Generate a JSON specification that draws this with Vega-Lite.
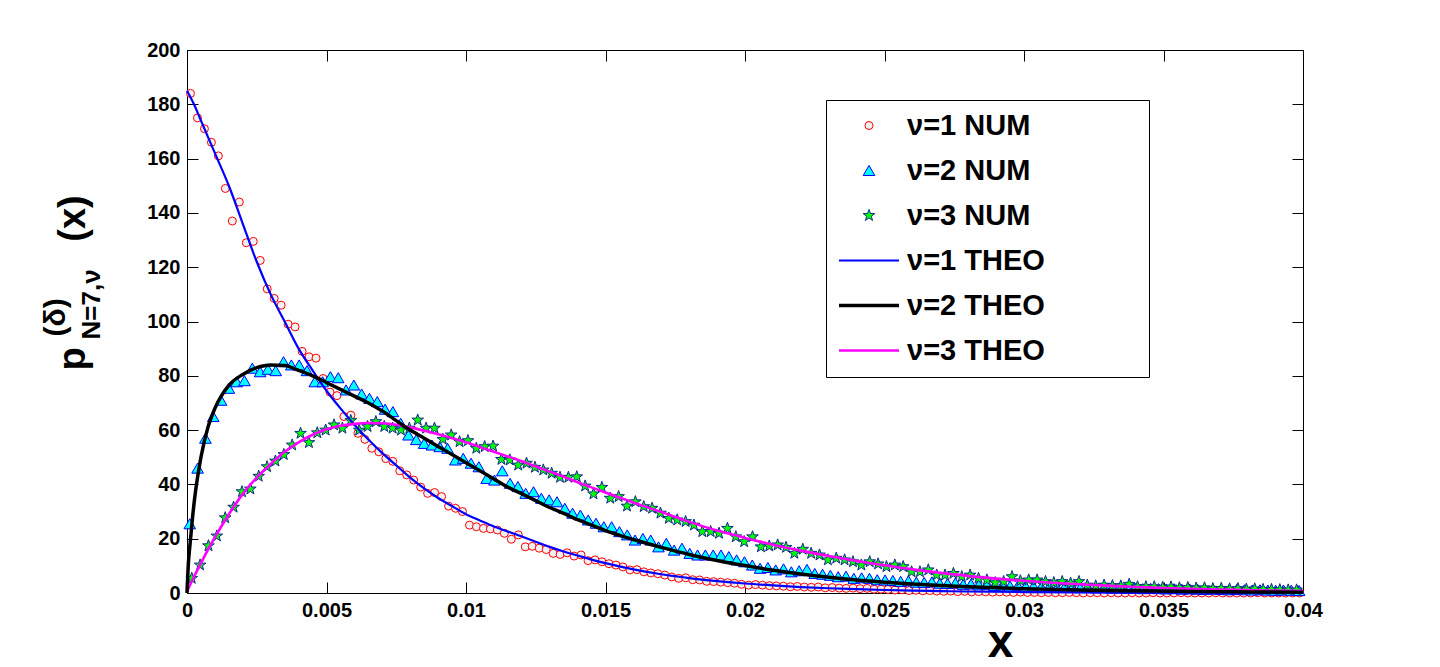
{
"$schema": "https://vega.github.io/schema/vega-lite/v6.json",
"width": 1116, "height": 543,
"autosize": {"type": "none"},
"padding": {"left": 187, "top": 50, "right": 137, "bottom": 74},
"background": "white",
"datasets": {
"num": [
{"s":"ν=1 NUM","x":0.000125,"y":184},{"s":"ν=1 NUM","x":0.000375,"y":175},{"s":"ν=1 NUM","x":0.000625,"y":171},{"s":"ν=1 NUM","x":0.000875,"y":166},{"s":"ν=1 NUM","x":0.001125,"y":161},{"s":"ν=1 NUM","x":0.001375,"y":149},{"s":"ν=1 NUM","x":0.001625,"y":137},{"s":"ν=1 NUM","x":0.001875,"y":144},{"s":"ν=1 NUM","x":0.002125,"y":129},{"s":"ν=1 NUM","x":0.002375,"y":129.5},
{"s":"ν=1 NUM","x":0.002625,"y":122.5},{"s":"ν=1 NUM","x":0.002875,"y":112},{"s":"ν=1 NUM","x":0.003125,"y":108.5},{"s":"ν=1 NUM","x":0.003375,"y":106},{"s":"ν=1 NUM","x":0.003625,"y":99},{"s":"ν=1 NUM","x":0.003875,"y":98},{"s":"ν=1 NUM","x":0.004125,"y":89},{"s":"ν=1 NUM","x":0.004375,"y":87},{"s":"ν=1 NUM","x":0.004625,"y":86.5},{"s":"ν=1 NUM","x":0.004875,"y":79},
{"s":"ν=1 NUM","x":0.005125,"y":74},{"s":"ν=1 NUM","x":0.005375,"y":72.7},{"s":"ν=1 NUM","x":0.005625,"y":65},{"s":"ν=1 NUM","x":0.005875,"y":65.5},{"s":"ν=1 NUM","x":0.006125,"y":58.8},{"s":"ν=1 NUM","x":0.006375,"y":56.6},{"s":"ν=1 NUM","x":0.006625,"y":53.3},{"s":"ν=1 NUM","x":0.006875,"y":52},{"s":"ν=1 NUM","x":0.007125,"y":49.5},{"s":"ν=1 NUM","x":0.007375,"y":48.5},
{"s":"ν=1 NUM","x":0.007625,"y":45},{"s":"ν=1 NUM","x":0.007875,"y":43.5},{"s":"ν=1 NUM","x":0.008125,"y":41.6},{"s":"ν=1 NUM","x":0.008375,"y":39},{"s":"ν=1 NUM","x":0.008625,"y":36.7},{"s":"ν=1 NUM","x":0.008875,"y":37},{"s":"ν=1 NUM","x":0.009125,"y":35.5},{"s":"ν=1 NUM","x":0.009375,"y":32},{"s":"ν=1 NUM","x":0.009625,"y":31.2},{"s":"ν=1 NUM","x":0.009875,"y":30},
{"s":"ν=1 NUM","x":0.010125,"y":25},{"s":"ν=1 NUM","x":0.010375,"y":24.4},{"s":"ν=1 NUM","x":0.010625,"y":23.8},{"s":"ν=1 NUM","x":0.010875,"y":23.6},{"s":"ν=1 NUM","x":0.011125,"y":23.2},{"s":"ν=1 NUM","x":0.011375,"y":22},{"s":"ν=1 NUM","x":0.011625,"y":19.8},{"s":"ν=1 NUM","x":0.011875,"y":21.4},{"s":"ν=1 NUM","x":0.012125,"y":17},{"s":"ν=1 NUM","x":0.012375,"y":17.2},
{"s":"ν=1 NUM","x":0.012625,"y":16.5},{"s":"ν=1 NUM","x":0.012875,"y":16},{"s":"ν=1 NUM","x":0.013125,"y":14.6},{"s":"ν=1 NUM","x":0.013375,"y":14.2},{"s":"ν=1 NUM","x":0.013625,"y":14.8},{"s":"ν=1 NUM","x":0.013875,"y":13.6},{"s":"ν=1 NUM","x":0.014125,"y":14},{"s":"ν=1 NUM","x":0.014375,"y":11.9},{"s":"ν=1 NUM","x":0.014625,"y":12.2},{"s":"ν=1 NUM","x":0.014875,"y":11.5},
{"s":"ν=1 NUM","x":0.015125,"y":10.8},{"s":"ν=1 NUM","x":0.015375,"y":10.3},{"s":"ν=1 NUM","x":0.015625,"y":9.6},{"s":"ν=1 NUM","x":0.015875,"y":8.5},{"s":"ν=1 NUM","x":0.016125,"y":8.6},{"s":"ν=1 NUM","x":0.016375,"y":7.8},{"s":"ν=1 NUM","x":0.016625,"y":7.4},{"s":"ν=1 NUM","x":0.016875,"y":7.1},{"s":"ν=1 NUM","x":0.017125,"y":6.6},{"s":"ν=1 NUM","x":0.017375,"y":5.9},
{"s":"ν=1 NUM","x":0.017625,"y":5.4},{"s":"ν=1 NUM","x":0.017875,"y":5.6},{"s":"ν=1 NUM","x":0.018125,"y":4.9},{"s":"ν=1 NUM","x":0.018375,"y":4.8},{"s":"ν=1 NUM","x":0.018625,"y":4.3},{"s":"ν=1 NUM","x":0.018875,"y":4.2},{"s":"ν=1 NUM","x":0.019125,"y":4},{"s":"ν=1 NUM","x":0.019375,"y":3.8},{"s":"ν=1 NUM","x":0.019625,"y":3.6},{"s":"ν=1 NUM","x":0.019875,"y":3.2},
{"s":"ν=1 NUM","x":0.020125,"y":2.9},{"s":"ν=1 NUM","x":0.020375,"y":3.1},{"s":"ν=1 NUM","x":0.020625,"y":2.9},{"s":"ν=1 NUM","x":0.020875,"y":2.7},{"s":"ν=1 NUM","x":0.021125,"y":2.6},{"s":"ν=1 NUM","x":0.021375,"y":2.5},{"s":"ν=1 NUM","x":0.021625,"y":2.3},{"s":"ν=1 NUM","x":0.021875,"y":2.4},{"s":"ν=1 NUM","x":0.022125,"y":2.2},{"s":"ν=1 NUM","x":0.022375,"y":2.1},
{"s":"ν=1 NUM","x":0.022625,"y":2.2},{"s":"ν=1 NUM","x":0.022875,"y":1.9},{"s":"ν=1 NUM","x":0.023125,"y":2},{"s":"ν=1 NUM","x":0.023375,"y":1.8},{"s":"ν=1 NUM","x":0.023625,"y":1.7},{"s":"ν=1 NUM","x":0.023875,"y":1.8},{"s":"ν=1 NUM","x":0.024125,"y":1.6},{"s":"ν=1 NUM","x":0.024375,"y":1.7},{"s":"ν=1 NUM","x":0.024625,"y":1.4},{"s":"ν=1 NUM","x":0.024875,"y":1.4},
{"s":"ν=1 NUM","x":0.025125,"y":1.3},{"s":"ν=1 NUM","x":0.025375,"y":1.1},{"s":"ν=1 NUM","x":0.025625,"y":1.2},{"s":"ν=1 NUM","x":0.025875,"y":0.9},{"s":"ν=1 NUM","x":0.026125,"y":1},{"s":"ν=1 NUM","x":0.026375,"y":0.8},{"s":"ν=1 NUM","x":0.026625,"y":0.9},{"s":"ν=1 NUM","x":0.026875,"y":0.7},{"s":"ν=1 NUM","x":0.027125,"y":0.6},{"s":"ν=1 NUM","x":0.027375,"y":0.7},
{"s":"ν=1 NUM","x":0.027625,"y":0.5},{"s":"ν=1 NUM","x":0.027875,"y":0.6},{"s":"ν=1 NUM","x":0.028125,"y":0.4},{"s":"ν=1 NUM","x":0.028375,"y":0.5},{"s":"ν=1 NUM","x":0.028625,"y":0.4},{"s":"ν=1 NUM","x":0.028875,"y":0.3},{"s":"ν=1 NUM","x":0.029125,"y":0.4},{"s":"ν=1 NUM","x":0.029375,"y":0.3},{"s":"ν=1 NUM","x":0.029625,"y":0.2},{"s":"ν=1 NUM","x":0.029875,"y":0.3},
{"s":"ν=1 NUM","x":0.030125,"y":0.2},{"s":"ν=1 NUM","x":0.030375,"y":0.2},{"s":"ν=1 NUM","x":0.030625,"y":0.1},{"s":"ν=1 NUM","x":0.030875,"y":0.2},{"s":"ν=1 NUM","x":0.031125,"y":0.1},{"s":"ν=1 NUM","x":0.031375,"y":0.1},{"s":"ν=1 NUM","x":0.031625,"y":0.2},{"s":"ν=1 NUM","x":0.031875,"y":0.1},{"s":"ν=1 NUM","x":0.032125,"y":0},{"s":"ν=1 NUM","x":0.032375,"y":0.1},
{"s":"ν=1 NUM","x":0.032625,"y":0.1},{"s":"ν=1 NUM","x":0.032875,"y":0},{"s":"ν=1 NUM","x":0.033125,"y":0.1},{"s":"ν=1 NUM","x":0.033375,"y":0},{"s":"ν=1 NUM","x":0.033625,"y":0},{"s":"ν=1 NUM","x":0.033875,"y":0.1},{"s":"ν=1 NUM","x":0.034125,"y":0},{"s":"ν=1 NUM","x":0.034375,"y":0},{"s":"ν=1 NUM","x":0.034625,"y":0.1},{"s":"ν=1 NUM","x":0.034875,"y":0},
{"s":"ν=1 NUM","x":0.035125,"y":0},{"s":"ν=1 NUM","x":0.035375,"y":0},{"s":"ν=1 NUM","x":0.035625,"y":0.1},{"s":"ν=1 NUM","x":0.035875,"y":0},{"s":"ν=1 NUM","x":0.036125,"y":0},{"s":"ν=1 NUM","x":0.036375,"y":0},{"s":"ν=1 NUM","x":0.036625,"y":0},{"s":"ν=1 NUM","x":0.036875,"y":0.1},{"s":"ν=1 NUM","x":0.037125,"y":0},{"s":"ν=1 NUM","x":0.037375,"y":0},
{"s":"ν=1 NUM","x":0.037625,"y":0},{"s":"ν=1 NUM","x":0.037875,"y":0},{"s":"ν=1 NUM","x":0.038125,"y":0},{"s":"ν=1 NUM","x":0.038375,"y":0.1},{"s":"ν=1 NUM","x":0.038625,"y":0},{"s":"ν=1 NUM","x":0.038875,"y":0},{"s":"ν=1 NUM","x":0.039125,"y":0},{"s":"ν=1 NUM","x":0.039375,"y":0},{"s":"ν=1 NUM","x":0.039625,"y":0},{"s":"ν=1 NUM","x":0.039875,"y":0},
{"s":"ν=2 NUM","x":0.0001,"y":25.5},{"s":"ν=2 NUM","x":0.00038,"y":46},{"s":"ν=2 NUM","x":0.00066,"y":57},{"s":"ν=2 NUM","x":0.00094,"y":65},{"s":"ν=2 NUM","x":0.00122,"y":71},{"s":"ν=2 NUM","x":0.0015,"y":75.4},{"s":"ν=2 NUM","x":0.00178,"y":77.8},{"s":"ν=2 NUM","x":0.00206,"y":78.2},{"s":"ν=2 NUM","x":0.00234,"y":82.8},{"s":"ν=2 NUM","x":0.00262,"y":81.5},
{"s":"ν=2 NUM","x":0.0029,"y":82.4},{"s":"ν=2 NUM","x":0.00318,"y":81.9},{"s":"ν=2 NUM","x":0.00346,"y":85.2},{"s":"ν=2 NUM","x":0.00374,"y":84},{"s":"ν=2 NUM","x":0.00402,"y":84},{"s":"ν=2 NUM","x":0.0043,"y":81.9},{"s":"ν=2 NUM","x":0.00458,"y":77.8},{"s":"ν=2 NUM","x":0.00486,"y":77.8},{"s":"ν=2 NUM","x":0.00514,"y":79.7},{"s":"ν=2 NUM","x":0.00542,"y":79.3},
{"s":"ν=2 NUM","x":0.0057,"y":74.8},{"s":"ν=2 NUM","x":0.00598,"y":76.6},{"s":"ν=2 NUM","x":0.00626,"y":73.3},{"s":"ν=2 NUM","x":0.00654,"y":71.7},{"s":"ν=2 NUM","x":0.00682,"y":70.5},{"s":"ν=2 NUM","x":0.0071,"y":67.7},{"s":"ν=2 NUM","x":0.00738,"y":66.8},{"s":"ν=2 NUM","x":0.00766,"y":62.5},{"s":"ν=2 NUM","x":0.00794,"y":58.2},{"s":"ν=2 NUM","x":0.00822,"y":56.5},
{"s":"ν=2 NUM","x":0.0085,"y":55.1},{"s":"ν=2 NUM","x":0.00878,"y":54.5},{"s":"ν=2 NUM","x":0.00906,"y":53.9},{"s":"ν=2 NUM","x":0.00934,"y":53.3},{"s":"ν=2 NUM","x":0.00962,"y":49},{"s":"ν=2 NUM","x":0.0099,"y":49.6},{"s":"ν=2 NUM","x":0.01018,"y":47.8},{"s":"ν=2 NUM","x":0.01046,"y":46.5},{"s":"ν=2 NUM","x":0.01074,"y":42.2},{"s":"ν=2 NUM","x":0.01102,"y":41.6},
{"s":"ν=2 NUM","x":0.0113,"y":45},{"s":"ν=2 NUM","x":0.01158,"y":40.4},{"s":"ν=2 NUM","x":0.01186,"y":39.2},{"s":"ν=2 NUM","x":0.01214,"y":36.7},{"s":"ν=2 NUM","x":0.01242,"y":37.3},{"s":"ν=2 NUM","x":0.0127,"y":34.9},{"s":"ν=2 NUM","x":0.01298,"y":34.3},{"s":"ν=2 NUM","x":0.01326,"y":33.6},{"s":"ν=2 NUM","x":0.01354,"y":31.2},{"s":"ν=2 NUM","x":0.01382,"y":29.4},
{"s":"ν=2 NUM","x":0.0141,"y":28.7},{"s":"ν=2 NUM","x":0.01438,"y":26.9},{"s":"ν=2 NUM","x":0.01466,"y":25.7},{"s":"ν=2 NUM","x":0.01494,"y":24.4},{"s":"ν=2 NUM","x":0.01522,"y":24.4},{"s":"ν=2 NUM","x":0.0155,"y":22.6},{"s":"ν=2 NUM","x":0.01578,"y":21.4},{"s":"ν=2 NUM","x":0.01606,"y":19.5},{"s":"ν=2 NUM","x":0.01634,"y":20.1},{"s":"ν=2 NUM","x":0.01662,"y":19.5},
{"s":"ν=2 NUM","x":0.0169,"y":17},{"s":"ν=2 NUM","x":0.01718,"y":18.3},{"s":"ν=2 NUM","x":0.01746,"y":15.8},{"s":"ν=2 NUM","x":0.01774,"y":16.5},{"s":"ν=2 NUM","x":0.01802,"y":14.6},{"s":"ν=2 NUM","x":0.0183,"y":14},{"s":"ν=2 NUM","x":0.01858,"y":14},{"s":"ν=2 NUM","x":0.01886,"y":14},{"s":"ν=2 NUM","x":0.01914,"y":14},{"s":"ν=2 NUM","x":0.01942,"y":13.4},
{"s":"ν=2 NUM","x":0.0197,"y":12.2},{"s":"ν=2 NUM","x":0.01998,"y":11.5},{"s":"ν=2 NUM","x":0.02026,"y":10.3},{"s":"ν=2 NUM","x":0.02054,"y":9.1},{"s":"ν=2 NUM","x":0.02082,"y":9.4},{"s":"ν=2 NUM","x":0.0211,"y":8.5},{"s":"ν=2 NUM","x":0.02138,"y":8.9},{"s":"ν=2 NUM","x":0.02166,"y":7.8},{"s":"ν=2 NUM","x":0.02194,"y":8.2},{"s":"ν=2 NUM","x":0.02222,"y":8.7},
{"s":"ν=2 NUM","x":0.0225,"y":7.2},{"s":"ν=2 NUM","x":0.02278,"y":6.9},{"s":"ν=2 NUM","x":0.02306,"y":6.5},{"s":"ν=2 NUM","x":0.02334,"y":6},{"s":"ν=2 NUM","x":0.02362,"y":6.2},{"s":"ν=2 NUM","x":0.0239,"y":5.4},{"s":"ν=2 NUM","x":0.02418,"y":5.6},{"s":"ν=2 NUM","x":0.02446,"y":5.4},{"s":"ν=2 NUM","x":0.02474,"y":4.9},{"s":"ν=2 NUM","x":0.02502,"y":4.8},
{"s":"ν=2 NUM","x":0.0253,"y":4.6},{"s":"ν=2 NUM","x":0.02558,"y":4.3},{"s":"ν=2 NUM","x":0.02586,"y":4.5},{"s":"ν=2 NUM","x":0.02614,"y":4},{"s":"ν=2 NUM","x":0.02642,"y":3.9},{"s":"ν=2 NUM","x":0.0267,"y":4.1},{"s":"ν=2 NUM","x":0.02698,"y":3.6},{"s":"ν=2 NUM","x":0.02726,"y":3.5},{"s":"ν=2 NUM","x":0.02754,"y":3.7},{"s":"ν=2 NUM","x":0.02782,"y":3.2},
{"s":"ν=2 NUM","x":0.0281,"y":3.3},{"s":"ν=2 NUM","x":0.02838,"y":3},{"s":"ν=2 NUM","x":0.02866,"y":3.1},{"s":"ν=2 NUM","x":0.02894,"y":2.8},{"s":"ν=2 NUM","x":0.02922,"y":2.9},{"s":"ν=2 NUM","x":0.0295,"y":2.6},{"s":"ν=2 NUM","x":0.02978,"y":2.7},{"s":"ν=2 NUM","x":0.03006,"y":2.5},{"s":"ν=2 NUM","x":0.03034,"y":2.6},{"s":"ν=2 NUM","x":0.03062,"y":2.3},
{"s":"ν=2 NUM","x":0.0309,"y":2.4},{"s":"ν=2 NUM","x":0.03118,"y":2.2},{"s":"ν=2 NUM","x":0.03146,"y":2.3},{"s":"ν=2 NUM","x":0.03174,"y":2.1},{"s":"ν=2 NUM","x":0.03202,"y":2},{"s":"ν=2 NUM","x":0.0323,"y":2.1},{"s":"ν=2 NUM","x":0.03258,"y":1.9},{"s":"ν=2 NUM","x":0.03286,"y":2},{"s":"ν=2 NUM","x":0.03314,"y":1.8},{"s":"ν=2 NUM","x":0.03342,"y":1.9},
{"s":"ν=2 NUM","x":0.0337,"y":1.7},{"s":"ν=2 NUM","x":0.03398,"y":1.8},{"s":"ν=2 NUM","x":0.03426,"y":1.6},{"s":"ν=2 NUM","x":0.03454,"y":1.7},{"s":"ν=2 NUM","x":0.03482,"y":1.6},{"s":"ν=2 NUM","x":0.0351,"y":1.5},{"s":"ν=2 NUM","x":0.03538,"y":1.6},{"s":"ν=2 NUM","x":0.03566,"y":1.4},{"s":"ν=2 NUM","x":0.03594,"y":1.5},{"s":"ν=2 NUM","x":0.03622,"y":1.4},
{"s":"ν=2 NUM","x":0.0365,"y":1.3},{"s":"ν=2 NUM","x":0.03678,"y":1.4},{"s":"ν=2 NUM","x":0.03706,"y":1.3},{"s":"ν=2 NUM","x":0.03734,"y":1.2},{"s":"ν=2 NUM","x":0.03762,"y":1.3},{"s":"ν=2 NUM","x":0.0379,"y":1.2},{"s":"ν=2 NUM","x":0.03818,"y":1.1},{"s":"ν=2 NUM","x":0.03846,"y":1.2},{"s":"ν=2 NUM","x":0.03874,"y":1.1},{"s":"ν=2 NUM","x":0.03902,"y":1},
{"s":"ν=2 NUM","x":0.0393,"y":1.1},{"s":"ν=2 NUM","x":0.03958,"y":1},{"s":"ν=2 NUM","x":0.03986,"y":0.9},
{"s":"ν=3 NUM","x":0.00017,"y":5.4},{"s":"ν=3 NUM","x":0.00047,"y":10.3},{"s":"ν=3 NUM","x":0.00077,"y":17.4},{"s":"ν=3 NUM","x":0.00107,"y":21},{"s":"ν=3 NUM","x":0.00137,"y":27.7},{"s":"ν=3 NUM","x":0.00167,"y":31.6},{"s":"ν=3 NUM","x":0.00197,"y":37.3},{"s":"ν=3 NUM","x":0.00227,"y":38.3},{"s":"ν=3 NUM","x":0.00257,"y":43},{"s":"ν=3 NUM","x":0.00287,"y":46.5},
{"s":"ν=3 NUM","x":0.00317,"y":48.6},{"s":"ν=3 NUM","x":0.00347,"y":51},{"s":"ν=3 NUM","x":0.00377,"y":54.5},{"s":"ν=3 NUM","x":0.00407,"y":58.8},{"s":"ν=3 NUM","x":0.00437,"y":55.4},{"s":"ν=3 NUM","x":0.00467,"y":59},{"s":"ν=3 NUM","x":0.00497,"y":60},{"s":"ν=3 NUM","x":0.00527,"y":61.9},{"s":"ν=3 NUM","x":0.00557,"y":60.7},{"s":"ν=3 NUM","x":0.00587,"y":63.5},
{"s":"ν=3 NUM","x":0.00617,"y":60},{"s":"ν=3 NUM","x":0.00647,"y":61.3},{"s":"ν=3 NUM","x":0.00677,"y":63.1},{"s":"ν=3 NUM","x":0.00707,"y":61.3},{"s":"ν=3 NUM","x":0.00737,"y":60.7},{"s":"ν=3 NUM","x":0.00767,"y":60},{"s":"ν=3 NUM","x":0.00797,"y":60.7},{"s":"ν=3 NUM","x":0.00827,"y":63.7},{"s":"ν=3 NUM","x":0.00857,"y":60.7},{"s":"ν=3 NUM","x":0.00887,"y":60.7},
{"s":"ν=3 NUM","x":0.00917,"y":56.6},{"s":"ν=3 NUM","x":0.00947,"y":58.2},{"s":"ν=3 NUM","x":0.00977,"y":55.7},{"s":"ν=3 NUM","x":0.01007,"y":56.1},{"s":"ν=3 NUM","x":0.01037,"y":53.3},{"s":"ν=3 NUM","x":0.01067,"y":53.9},{"s":"ν=3 NUM","x":0.01097,"y":54.1},{"s":"ν=3 NUM","x":0.01127,"y":49.2},{"s":"ν=3 NUM","x":0.01157,"y":49},{"s":"ν=3 NUM","x":0.01187,"y":47.1},
{"s":"ν=3 NUM","x":0.01217,"y":47.8},{"s":"ν=3 NUM","x":0.01247,"y":46.3},{"s":"ν=3 NUM","x":0.01277,"y":45.3},{"s":"ν=3 NUM","x":0.01307,"y":44.1},{"s":"ν=3 NUM","x":0.01337,"y":42.6},{"s":"ν=3 NUM","x":0.01367,"y":42.6},{"s":"ν=3 NUM","x":0.01397,"y":42.8},{"s":"ν=3 NUM","x":0.01427,"y":39.4},{"s":"ν=3 NUM","x":0.01457,"y":36.5},{"s":"ν=3 NUM","x":0.01487,"y":38.9},
{"s":"ν=3 NUM","x":0.01517,"y":34.9},{"s":"ν=3 NUM","x":0.01547,"y":35.5},{"s":"ν=3 NUM","x":0.01577,"y":32},{"s":"ν=3 NUM","x":0.01607,"y":33.6},{"s":"ν=3 NUM","x":0.01637,"y":31.8},{"s":"ν=3 NUM","x":0.01667,"y":31.2},{"s":"ν=3 NUM","x":0.01697,"y":29.4},{"s":"ν=3 NUM","x":0.01727,"y":27.5},{"s":"ν=3 NUM","x":0.01757,"y":26.9},{"s":"ν=3 NUM","x":0.01787,"y":26.3},
{"s":"ν=3 NUM","x":0.01817,"y":25},{"s":"ν=3 NUM","x":0.01847,"y":22.6},{"s":"ν=3 NUM","x":0.01877,"y":22.6},{"s":"ν=3 NUM","x":0.01907,"y":22},{"s":"ν=3 NUM","x":0.01937,"y":23.8},{"s":"ν=3 NUM","x":0.01967,"y":20.7},{"s":"ν=3 NUM","x":0.01997,"y":18.9},{"s":"ν=3 NUM","x":0.02027,"y":20.7},{"s":"ν=3 NUM","x":0.02057,"y":17},{"s":"ν=3 NUM","x":0.02087,"y":17.3},
{"s":"ν=3 NUM","x":0.02117,"y":17.7},{"s":"ν=3 NUM","x":0.02147,"y":16.8},{"s":"ν=3 NUM","x":0.02177,"y":14.6},{"s":"ν=3 NUM","x":0.02207,"y":16.1},{"s":"ν=3 NUM","x":0.02237,"y":14.6},{"s":"ν=3 NUM","x":0.02267,"y":14},{"s":"ν=3 NUM","x":0.02297,"y":12.2},{"s":"ν=3 NUM","x":0.02327,"y":12.8},{"s":"ν=3 NUM","x":0.02357,"y":12.2},{"s":"ν=3 NUM","x":0.02387,"y":11.5},
{"s":"ν=3 NUM","x":0.02417,"y":10.3},{"s":"ν=3 NUM","x":0.02447,"y":11.5},{"s":"ν=3 NUM","x":0.02477,"y":10.7},{"s":"ν=3 NUM","x":0.02507,"y":9.7},{"s":"ν=3 NUM","x":0.02537,"y":10.3},{"s":"ν=3 NUM","x":0.02567,"y":9.7},{"s":"ν=3 NUM","x":0.02597,"y":7.8},{"s":"ν=3 NUM","x":0.02627,"y":7.8},{"s":"ν=3 NUM","x":0.02657,"y":8.5},{"s":"ν=3 NUM","x":0.02687,"y":6.6},
{"s":"ν=3 NUM","x":0.02717,"y":6.6},{"s":"ν=3 NUM","x":0.02747,"y":7.2},{"s":"ν=3 NUM","x":0.02777,"y":6},{"s":"ν=3 NUM","x":0.02807,"y":6.6},{"s":"ν=3 NUM","x":0.02837,"y":5.4},{"s":"ν=3 NUM","x":0.02867,"y":4.8},{"s":"ν=3 NUM","x":0.02897,"y":3.8},{"s":"ν=3 NUM","x":0.02927,"y":4.2},{"s":"ν=3 NUM","x":0.02957,"y":6},{"s":"ν=3 NUM","x":0.02987,"y":4.5},
{"s":"ν=3 NUM","x":0.03017,"y":4.8},{"s":"ν=3 NUM","x":0.03047,"y":4.8},{"s":"ν=3 NUM","x":0.03077,"y":4.2},{"s":"ν=3 NUM","x":0.03107,"y":3.8},{"s":"ν=3 NUM","x":0.03137,"y":4.2},{"s":"ν=3 NUM","x":0.03167,"y":3.6},{"s":"ν=3 NUM","x":0.03197,"y":4.2},{"s":"ν=3 NUM","x":0.03227,"y":2.9},{"s":"ν=3 NUM","x":0.03257,"y":2.6},{"s":"ν=3 NUM","x":0.03287,"y":2.9},
{"s":"ν=3 NUM","x":0.03317,"y":2.7},{"s":"ν=3 NUM","x":0.03347,"y":2.6},{"s":"ν=3 NUM","x":0.03377,"y":3.2},{"s":"ν=3 NUM","x":0.03407,"y":2.3},{"s":"ν=3 NUM","x":0.03437,"y":2.3},{"s":"ν=3 NUM","x":0.03467,"y":2.3},{"s":"ν=3 NUM","x":0.03497,"y":2.1},{"s":"ν=3 NUM","x":0.03527,"y":2.2},{"s":"ν=3 NUM","x":0.03557,"y":1.9},{"s":"ν=3 NUM","x":0.03587,"y":2},
{"s":"ν=3 NUM","x":0.03617,"y":1.8},{"s":"ν=3 NUM","x":0.03647,"y":1.9},{"s":"ν=3 NUM","x":0.03677,"y":1.6},{"s":"ν=3 NUM","x":0.03707,"y":1.7},{"s":"ν=3 NUM","x":0.03737,"y":1.5},{"s":"ν=3 NUM","x":0.03767,"y":1.6},{"s":"ν=3 NUM","x":0.03797,"y":1.4},{"s":"ν=3 NUM","x":0.03827,"y":1.5},{"s":"ν=3 NUM","x":0.03857,"y":1.3},{"s":"ν=3 NUM","x":0.03887,"y":1.3},
{"s":"ν=3 NUM","x":0.03917,"y":1.2},{"s":"ν=3 NUM","x":0.03947,"y":1.1},{"s":"ν=3 NUM","x":0.03977,"y":1.1}
],
"theo": [
{"s":"ν=1 THEO","x":0,"y":185},{"s":"ν=1 THEO","x":0.00025,"y":180},{"s":"ν=1 THEO","x":0.0005,"y":174},{"s":"ν=1 THEO","x":0.00075,"y":168},{"s":"ν=1 THEO","x":0.001,"y":162},{"s":"ν=1 THEO","x":0.0015,"y":150},{"s":"ν=1 THEO","x":0.002,"y":136},{"s":"ν=1 THEO","x":0.0025,"y":122},{"s":"ν=1 THEO","x":0.003,"y":110},{"s":"ν=1 THEO","x":0.0035,"y":100},
{"s":"ν=1 THEO","x":0.004,"y":90},{"s":"ν=1 THEO","x":0.0045,"y":82},{"s":"ν=1 THEO","x":0.005,"y":74.5},{"s":"ν=1 THEO","x":0.0055,"y":68},{"s":"ν=1 THEO","x":0.006,"y":62},{"s":"ν=1 THEO","x":0.0065,"y":56.5},{"s":"ν=1 THEO","x":0.007,"y":51.5},{"s":"ν=1 THEO","x":0.0075,"y":47},{"s":"ν=1 THEO","x":0.008,"y":42.5},{"s":"ν=1 THEO","x":0.0085,"y":38.5},
{"s":"ν=1 THEO","x":0.009,"y":35},{"s":"ν=1 THEO","x":0.0095,"y":32},{"s":"ν=1 THEO","x":0.01,"y":29},{"s":"ν=1 THEO","x":0.0105,"y":26.7},{"s":"ν=1 THEO","x":0.011,"y":24.5},{"s":"ν=1 THEO","x":0.0115,"y":22.6},{"s":"ν=1 THEO","x":0.012,"y":20.8},{"s":"ν=1 THEO","x":0.0125,"y":18.9},{"s":"ν=1 THEO","x":0.013,"y":17},{"s":"ν=1 THEO","x":0.0135,"y":15.3},
{"s":"ν=1 THEO","x":0.014,"y":13.8},{"s":"ν=1 THEO","x":0.0145,"y":12.3},{"s":"ν=1 THEO","x":0.015,"y":11},{"s":"ν=1 THEO","x":0.016,"y":8.7},{"s":"ν=1 THEO","x":0.017,"y":6.9},{"s":"ν=1 THEO","x":0.018,"y":5.5},{"s":"ν=1 THEO","x":0.019,"y":4.4},{"s":"ν=1 THEO","x":0.02,"y":3.5},{"s":"ν=1 THEO","x":0.021,"y":2.8},{"s":"ν=1 THEO","x":0.022,"y":2.2},
{"s":"ν=1 THEO","x":0.023,"y":1.75},{"s":"ν=1 THEO","x":0.024,"y":1.4},{"s":"ν=1 THEO","x":0.025,"y":1.1},{"s":"ν=1 THEO","x":0.026,"y":0.85},{"s":"ν=1 THEO","x":0.027,"y":0.7},{"s":"ν=1 THEO","x":0.028,"y":0.55},{"s":"ν=1 THEO","x":0.03,"y":0.35},{"s":"ν=1 THEO","x":0.032,"y":0.22},{"s":"ν=1 THEO","x":0.034,"y":0.15},{"s":"ν=1 THEO","x":0.036,"y":0.1},
{"s":"ν=1 THEO","x":0.038,"y":0.07},{"s":"ν=1 THEO","x":0.04,"y":0.05},
{"s":"ν=3 THEO","x":0,"y":0.5},{"s":"ν=3 THEO","x":0.00025,"y":6},{"s":"ν=3 THEO","x":0.0005,"y":11},{"s":"ν=3 THEO","x":0.00075,"y":16},{"s":"ν=3 THEO","x":0.001,"y":20.5},{"s":"ν=3 THEO","x":0.0015,"y":29},{"s":"ν=3 THEO","x":0.002,"y":36.5},{"s":"ν=3 THEO","x":0.0025,"y":42.5},{"s":"ν=3 THEO","x":0.003,"y":47.5},{"s":"ν=3 THEO","x":0.0035,"y":52},
{"s":"ν=3 THEO","x":0.004,"y":55.5},{"s":"ν=3 THEO","x":0.0045,"y":58.3},{"s":"ν=3 THEO","x":0.005,"y":60.3},{"s":"ν=3 THEO","x":0.0055,"y":61.6},{"s":"ν=3 THEO","x":0.006,"y":62.3},{"s":"ν=3 THEO","x":0.0065,"y":62.6},{"s":"ν=3 THEO","x":0.007,"y":62.5},{"s":"ν=3 THEO","x":0.0075,"y":62},{"s":"ν=3 THEO","x":0.008,"y":61},{"s":"ν=3 THEO","x":0.0085,"y":59.8},
{"s":"ν=3 THEO","x":0.009,"y":58.5},{"s":"ν=3 THEO","x":0.0095,"y":57},{"s":"ν=3 THEO","x":0.01,"y":55.5},{"s":"ν=3 THEO","x":0.0105,"y":53.8},{"s":"ν=3 THEO","x":0.011,"y":52},{"s":"ν=3 THEO","x":0.0115,"y":50.3},{"s":"ν=3 THEO","x":0.012,"y":48.5},{"s":"ν=3 THEO","x":0.0125,"y":46.6},{"s":"ν=3 THEO","x":0.013,"y":44.7},{"s":"ν=3 THEO","x":0.0135,"y":42.8},
{"s":"ν=3 THEO","x":0.014,"y":40.8},{"s":"ν=3 THEO","x":0.0145,"y":38.9},{"s":"ν=3 THEO","x":0.015,"y":37},{"s":"ν=3 THEO","x":0.016,"y":33.3},{"s":"ν=3 THEO","x":0.017,"y":29.8},{"s":"ν=3 THEO","x":0.018,"y":26.2},{"s":"ν=3 THEO","x":0.019,"y":23},{"s":"ν=3 THEO","x":0.02,"y":20.3},{"s":"ν=3 THEO","x":0.021,"y":17.8},{"s":"ν=3 THEO","x":0.022,"y":15.6},
{"s":"ν=3 THEO","x":0.023,"y":13.6},{"s":"ν=3 THEO","x":0.024,"y":11.8},{"s":"ν=3 THEO","x":0.025,"y":10.2},{"s":"ν=3 THEO","x":0.026,"y":8.7},{"s":"ν=3 THEO","x":0.027,"y":7.4},{"s":"ν=3 THEO","x":0.028,"y":6.3},{"s":"ν=3 THEO","x":0.029,"y":5.3},{"s":"ν=3 THEO","x":0.03,"y":4.5},{"s":"ν=3 THEO","x":0.031,"y":3.8},{"s":"ν=3 THEO","x":0.032,"y":3.2},
{"s":"ν=3 THEO","x":0.033,"y":2.7},{"s":"ν=3 THEO","x":0.034,"y":2.2},{"s":"ν=3 THEO","x":0.035,"y":1.85},{"s":"ν=3 THEO","x":0.036,"y":1.55},{"s":"ν=3 THEO","x":0.037,"y":1.3},{"s":"ν=3 THEO","x":0.038,"y":1.1},{"s":"ν=3 THEO","x":0.039,"y":0.9},{"s":"ν=3 THEO","x":0.04,"y":0.75},
{"s":"ν=2 THEO","x":0,"y":0},{"s":"ν=2 THEO","x":0.00005,"y":11},{"s":"ν=2 THEO","x":0.0001,"y":17},{"s":"ν=2 THEO","x":0.0002,"y":28},{"s":"ν=2 THEO","x":0.0003,"y":37},{"s":"ν=2 THEO","x":0.0004,"y":44},{"s":"ν=2 THEO","x":0.0005,"y":50},{"s":"ν=2 THEO","x":0.00075,"y":61},{"s":"ν=2 THEO","x":0.001,"y":68},{"s":"ν=2 THEO","x":0.0015,"y":76.5},
{"s":"ν=2 THEO","x":0.002,"y":80.5},{"s":"ν=2 THEO","x":0.0025,"y":83},{"s":"ν=2 THEO","x":0.003,"y":84},{"s":"ν=2 THEO","x":0.0035,"y":83.8},{"s":"ν=2 THEO","x":0.004,"y":82},{"s":"ν=2 THEO","x":0.0045,"y":80},{"s":"ν=2 THEO","x":0.005,"y":77.5},{"s":"ν=2 THEO","x":0.0055,"y":75},{"s":"ν=2 THEO","x":0.006,"y":72.5},{"s":"ν=2 THEO","x":0.0065,"y":70},
{"s":"ν=2 THEO","x":0.007,"y":67},{"s":"ν=2 THEO","x":0.0075,"y":63.5},{"s":"ν=2 THEO","x":0.008,"y":60},{"s":"ν=2 THEO","x":0.0085,"y":57},{"s":"ν=2 THEO","x":0.009,"y":54},{"s":"ν=2 THEO","x":0.0095,"y":51},{"s":"ν=2 THEO","x":0.01,"y":48},{"s":"ν=2 THEO","x":0.0105,"y":45},{"s":"ν=2 THEO","x":0.011,"y":42},{"s":"ν=2 THEO","x":0.0115,"y":39},
{"s":"ν=2 THEO","x":0.012,"y":36.5},{"s":"ν=2 THEO","x":0.0125,"y":34},{"s":"ν=2 THEO","x":0.013,"y":31.5},{"s":"ν=2 THEO","x":0.0135,"y":29.3},{"s":"ν=2 THEO","x":0.014,"y":27},{"s":"ν=2 THEO","x":0.0145,"y":25},{"s":"ν=2 THEO","x":0.015,"y":23},{"s":"ν=2 THEO","x":0.016,"y":19.7},{"s":"ν=2 THEO","x":0.017,"y":16.8},{"s":"ν=2 THEO","x":0.018,"y":14.2},
{"s":"ν=2 THEO","x":0.019,"y":12},{"s":"ν=2 THEO","x":0.02,"y":10.1},{"s":"ν=2 THEO","x":0.021,"y":8.4},{"s":"ν=2 THEO","x":0.022,"y":7},{"s":"ν=2 THEO","x":0.023,"y":5.8},{"s":"ν=2 THEO","x":0.024,"y":4.8},{"s":"ν=2 THEO","x":0.025,"y":4},{"s":"ν=2 THEO","x":0.026,"y":3.3},{"s":"ν=2 THEO","x":0.027,"y":2.75},{"s":"ν=2 THEO","x":0.028,"y":2.3},
{"s":"ν=2 THEO","x":0.03,"y":1.6},{"s":"ν=2 THEO","x":0.032,"y":1.1},{"s":"ν=2 THEO","x":0.034,"y":0.8},{"s":"ν=2 THEO","x":0.036,"y":0.55},{"s":"ν=2 THEO","x":0.038,"y":0.4},{"s":"ν=2 THEO","x":0.04,"y":0.28}
]
},
"resolve": {"axis": {"x": "independent", "y": "independent"}},
"layer": [
{
"data": {"name": "num"},
"mark": {"type": "point", "filled": true, "opacity": 1},
"encoding": {
"x": {"field": "x", "type": "quantitative", "scale": {"domain": [0, 0.04], "nice": false, "zero": false},
 "axis": {"orient": "top", "labels": false, "values": [0,0.005,0.01,0.015,0.02,0.025,0.03,0.035,0.04], "title": "(δ)", "titleFontSize": 30, "titleAngle": -90, "titleAlign": "left", "titleBaseline": "alphabetic", "titleX": -123, "titleY": 286}},
"y": {"field": "y", "type": "quantitative", "scale": {"domain": [0, 200], "nice": false},
 "axis": {"orient": "right", "labels": false, "values": [0,20,40,60,80,100,120,140,160,180,200], "title": "N=7,ν", "titleFontSize": 26, "titleAngle": -90, "titleAlign": "left", "titleBaseline": "alphabetic", "titleX": -1204, "titleY": 289}},
"shape": {"field": "s", "type": "nominal",
 "scale": {"domain": ["ν=1 NUM","ν=2 NUM","ν=3 NUM","ν=1 THEO","ν=2 THEO","ν=3 THEO"], "range": ["circle","triangle-up","M0,-1L0.235,-0.324L0.951,-0.309L0.38,0.124L0.588,0.809L0,0.4L-0.588,0.809L-0.38,0.124L-0.951,-0.309L-0.235,-0.324Z","stroke","stroke","stroke"]},
 "legend": {"orient": "none", "legendX": 639, "legendY": 50, "title": "ν", "titleOrient": "right", "titlePadding": 76, "titleFontSize": 29, "titleColor": "white", "titleOpacity": 0, "padding": 11, "rowPadding": 15, "clipHeight": 29, "labelFont": "Liberation Sans", "labelFontSize": 29, "labelFontWeight": "bold", "labelColor": "black", "labelOffset": 6, "labelLimit": 600, "strokeColor": "black", "fillColor": "white",
  "encode": {"symbols": {"update": {"strokeWidth": {"signal": "datum.value == 'ν=2 THEO' ? 3.5 : (indexof(datum.value, 'THEO') >= 0 ? 2.5 : 1)"}}}}}},
"fill": {"field": "s", "type": "nominal",
 "scale": {"domain": ["ν=1 NUM","ν=2 NUM","ν=3 NUM","ν=1 THEO","ν=2 THEO","ν=3 THEO"], "range": ["#f2f0f0","#00ffff","#00ff00","#ffffff","#ffffff","#ffffff"]}},
"stroke": {"field": "s", "type": "nominal",
 "scale": {"domain": ["ν=1 NUM","ν=2 NUM","ν=3 NUM","ν=1 THEO","ν=2 THEO","ν=3 THEO"], "range": ["#ff0000","#0000ff","#14288c","#0000ff","#000000","#ff00ff"]}},
"size": {"field": "s", "type": "nominal",
 "scale": {"type": "ordinal", "domain": ["ν=1 NUM","ν=2 NUM","ν=3 NUM","ν=1 THEO","ν=2 THEO","ν=3 THEO"], "range": [64,135,150,3600,3600,3600]}},
"strokeWidth": {"field": "s", "type": "nominal", "legend": null,
 "scale": {"type": "ordinal", "domain": ["ν=1 NUM","ν=2 NUM","ν=3 NUM","ν=1 THEO","ν=2 THEO","ν=3 THEO"], "range": [1,1,1,2.2,3.5,2.6]}}
}
},
{
"data": {"name": "theo"},
"mark": {"type": "line", "interpolate": "monotone"},
"encoding": {
"x": {"field": "x", "type": "quantitative",
 "axis": {"orient": "bottom", "offset": -11, "tickSize": 11, "domain": false, "labelPadding": 7, "values": [0,0.005,0.01,0.015,0.02,0.025,0.03,0.035,0.04], "labelFlush": false, "labelExpr": "'' + datum.value", "title": "x", "titleFontSize": 46, "titleAlign": "center", "titleBaseline": "alphabetic", "titleX": 813, "titleY": 74}},
"y": {"field": "y", "type": "quantitative",
 "axis": {"orient": "left", "offset": -11, "tickSize": 11, "domain": false, "labelPadding": 7, "values": [0,20,40,60,80,100,120,140,160,180,200], "labelFlush": false, "title": "p\u00a0\u00a0\u00a0\u00a0\u00a0\u00a0\u00a0\u00a0\u00a0\u00a0(x)", "titleFontSize": 38, "titleAngle": -90, "titleAlign": "left", "titleBaseline": "alphabetic", "titleX": -114, "titleY": 320}},
"stroke": {"field": "s", "type": "nominal",
 "scale": {"domain": ["ν=1 NUM","ν=2 NUM","ν=3 NUM","ν=1 THEO","ν=2 THEO","ν=3 THEO"], "range": ["#ff0000","#0000ff","#14288c","#0000ff","#000000","#ff00ff"]}},
"strokeWidth": {"field": "s", "type": "nominal", "legend": null,
 "scale": {"type": "ordinal", "domain": ["ν=1 NUM","ν=2 NUM","ν=3 NUM","ν=1 THEO","ν=2 THEO","ν=3 THEO"], "range": [1,1,1,2.2,3.5,2.6]}}
}
}
],
"config": {
"view": {"stroke": "black", "strokeWidth": 1},
"axis": {"grid": false, "domainColor": "black", "tickColor": "black", "labelColor": "black", "titleColor": "black", "labelFont": "Liberation Sans", "titleFont": "Liberation Sans", "labelFontWeight": "bold", "titleFontWeight": "bold", "labelFontSize": 20, "tickSize": -11, "labelPadding": 18, "domainWidth": 1, "tickWidth": 1}
}
}
